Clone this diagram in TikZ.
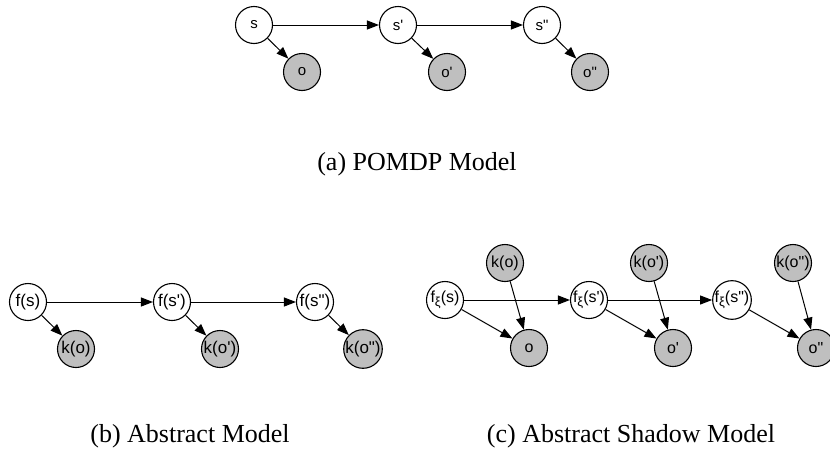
\documentclass[tikz,border=0pt]{standalone}
\usepackage{fontspec}
\setmainfont{Liberation Serif}
\newfontfamily\nodefont[Ligatures=TeXOff]{Liberation Sans}
\usetikzlibrary{arrows.meta}
\newcommand{\xisub}{\raisebox{-3.5pt}{\fontsize{13}{13}\selectfont ξ}}
\begin{document}
\begin{tikzpicture}[x=1pt,y=-1pt,
  var/.style={circle,draw,line width=1.1pt,minimum size=37pt,inner sep=0pt,fill=white,font=\nodefont\fontsize{15}{17}\selectfont},
  obs/.style={var,fill=black!25},
  big/.style={font=\nodefont\fontsize{17}{19}\selectfont},
  mid/.style={font=\nodefont\fontsize{16}{18}\selectfont},
  arr/.style={line width=1pt,-{Triangle[length=12pt,width=9pt]}},
  captext/.style={anchor=base,font=\fontsize{26}{30}\selectfont}]
\useasboundingbox (0,0) rectangle (830,453);
\clip (0,0) rectangle (830,453);
% (a)
\node[var] (s) at (254,25) {s};
\node[obs] (o) at (302,72) {o};
\node[var] (s1) at (398,25) {s'};
\node[obs] (o1) at (447,72) {o'};
\node[var] (s2) at (542,25) {s"};
\node[obs] (o2) at (590,72) {o"};
\draw[arr] (s) -- (s1);
\draw[arr] (s1) -- (s2);
\draw[arr] (s) -- (o);
\draw[arr] (s1) -- (o1);
\draw[arr] (s2) -- (o2);
\node[captext] (capa) at (417,170) {(a) POMDP Model};
% (b)
\node[var,big] (fs) at (28,302) {f(s)};
\node[obs,big] (ko) at (76,349) {k(o)};
\node[var,big] (fs1) at (172,302) {f(s')};
\node[obs,big] (ko1) at (220,349) {k(o')};
\node[var,big] (fs2) at (315,302) {f(s")};
\node[obs,big] (ko2) at (363,349) {k(o")};
\draw[arr] (fs) -- (fs1);
\draw[arr] (fs1) -- (fs2);
\draw[arr] (fs) -- (ko);
\draw[arr] (fs1) -- (ko1);
\draw[arr] (fs2) -- (ko2);
\node[captext] (capb) at (190,442) {(b) Abstract Model};
% (c)
\node[var,mid] (gs) at (445,300) {f\xisub(s)};
\node[obs,mid] (po) at (529,348) {o};
\node[var,mid] (gs1) at (589,300) {f\xisub(s')};
\node[obs,mid] (po1) at (673,348) {o'};
\node[var,mid] (gs2) at (732,300) {f\xisub(s")};
\node[obs,mid] (po2) at (816,348) {o"};
\node[obs,mid] (kk) at (505,263) {k(o)};
\node[obs,mid] (kk1) at (649,263) {k(o')};
\node[obs,mid] (kk2) at (793,263) {k(o")};
\draw[arr] (gs) -- (gs1);
\draw[arr] (gs1) -- (gs2);
\draw[arr] (gs) -- (po);
\draw[arr] (gs1) -- (po1);
\draw[arr] (gs2) -- (po2);
\draw[arr] (kk) -- (po);
\draw[arr] (kk1) -- (po1);
\draw[arr] (kk2) -- (po2);
\node[captext] (capc) at (631,442) {(c) Abstract Shadow Model};
\end{tikzpicture}
\end{document}
